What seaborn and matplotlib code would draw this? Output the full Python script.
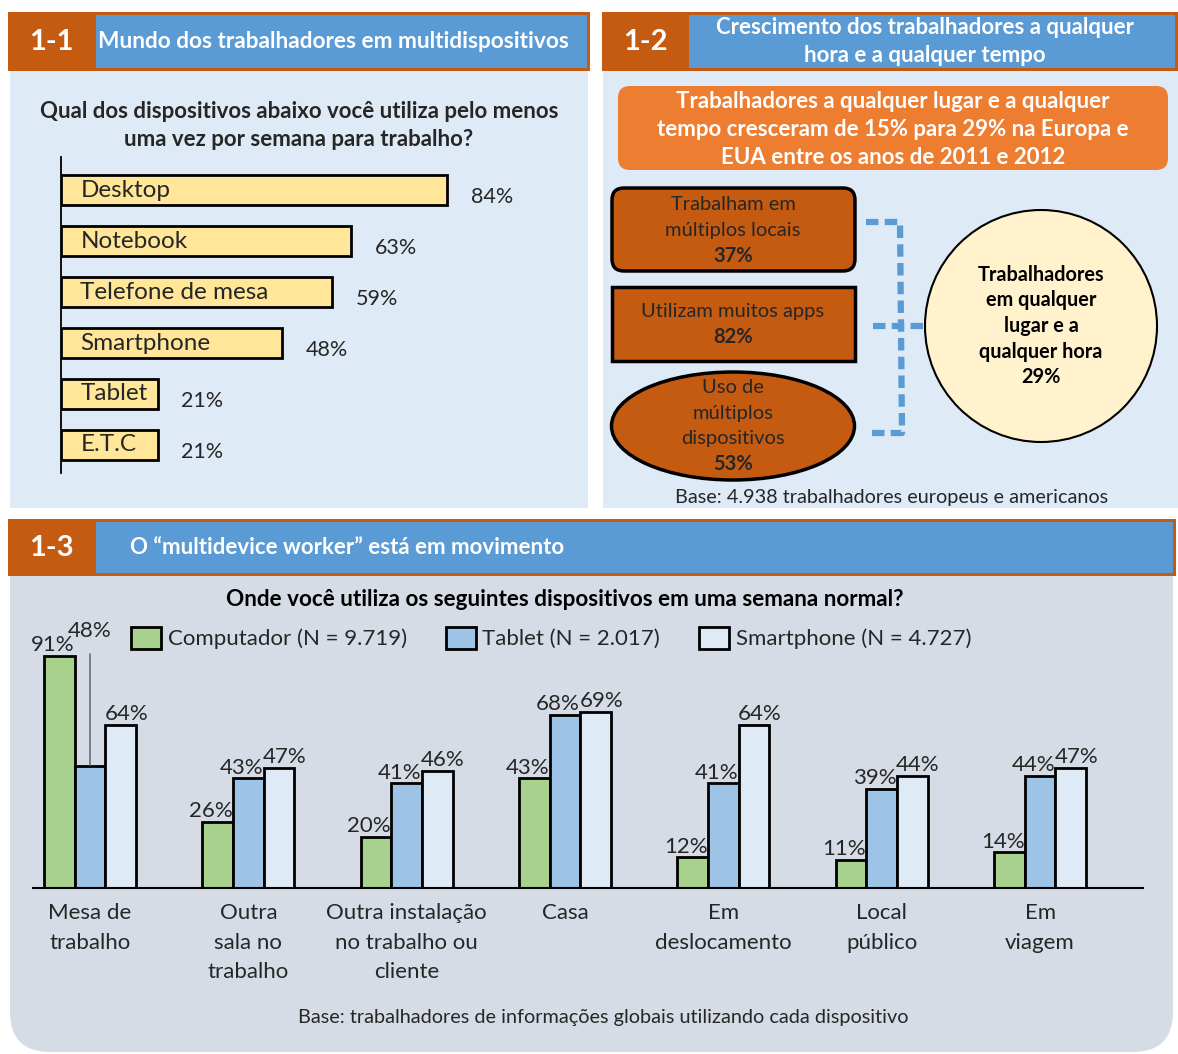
import matplotlib
matplotlib.use('Agg')
import matplotlib.pyplot as plt
import seaborn as sns
import pandas as pd
from matplotlib.patches import Rectangle, FancyBboxPatch, Ellipse, Circle, Patch

# ---------------- data ----------------
devices_11 = ['Desktop', 'Notebook', 'Telefone de mesa', 'Smartphone', 'Tablet', 'E.T.C']
usage_11 = [84, 63, 59, 48, 21, 21]

headline_12 = ['Trabalhadores a qualquer lugar e a qualquer',
               'tempo cresceram de 15% para 29% na Europa e',
               'EUA entre os anos de 2011 e 2012']
box_labels_12 = ['Trabalham em\nmúltiplos locais', 'Utilizam muitos apps', 'Uso de\nmúltiplos\ndispositivos']
box_values_12 = [37, 82, 53]
center_label_12 = 'Trabalhadores\nem qualquer\nlugar e a\nqualquer hora'
center_value_12 = 29

locations_13 = ['Mesa de\ntrabalho', 'Outra\nsala no\ntrabalho', 'Outra instalação\nno trabalho ou\ncliente',
                'Casa', 'Em\ndeslocamento', 'Local\npúblico', 'Em\nviagem']
series_13 = ['Computador (N = 9.719)', 'Tablet (N = 2.017)', 'Smartphone (N = 4.727)']
computador = [91, 26, 20, 43, 12, 11, 14]
tablet = [48, 43, 41, 68, 41, 39, 44]
smartphone = [64, 47, 46, 69, 64, 44, 47]

# ---------------- style ----------------
sns.set_theme(style='white')
plt.rcParams['font.family'] = ['Lato', 'DejaVu Sans']

ORANGE_D = '#C55A11'
ORANGE = '#ED7D31'
BLUE_H = '#5B9BD5'
BG_BLUE = '#DEEAF6'
BG_GRAY = '#D6DCE5'
TXT = '#262626'

W, H = 1178, 1054
fig = plt.figure(figsize=(W / 100, H / 100), dpi=100)
fig.patch.set_facecolor('white')
bg = fig.add_axes([0, 0, 1, 1])
bg.set_xlim(0, W)
bg.set_ylim(H, 0)
bg.axis('off')


def fax(x0, y0, x1, y1):
    a = fig.add_axes([x0 / W, 1 - y1 / H, (x1 - x0) / W, (y1 - y0) / H])
    a.set_facecolor('none')
    return a


# ---------------- panel backgrounds & headers ----------------
bg.add_patch(Rectangle((10, 70), 578, 438, color=BG_BLUE, lw=0))
bg.add_patch(Rectangle((603, 70), 575, 438, color=BG_BLUE, lw=0))
bg.add_patch(FancyBboxPatch((10 + 40, 575 + 40), 1163 - 80, 477 - 80,
                            boxstyle='round,pad=40', color=BG_GRAY, lw=0))
bg.add_patch(Rectangle((10, 575), 1163, 100, color=BG_GRAY, lw=0))

for (x0, x1, xs, y0, y1) in [(8, 590, 96, 12, 71), (602, 1178, 689, 12, 71), (8, 1176, 96, 519, 576)]:
    bg.add_patch(Rectangle((x0, y0), x1 - x0, y1 - y0, color=ORANGE_D, lw=0))
    bg.add_patch(Rectangle((xs, y0 + 3), x1 - xs - 3, y1 - y0 - 6, color=BLUE_H, lw=0))

hdr = dict(color='white', fontweight='bold', va='center')
bg.text(51, 42, '1-1', ha='center', fontsize=21, **hdr)
bg.text(645, 42, '1-2', ha='center', fontsize=21, **hdr)
bg.text(51, 548, '1-3', ha='center', fontsize=21, **hdr)
bg.text(333, 42, 'Mundo dos trabalhadores em multidispositivos', ha='center', fontsize=16.3, **hdr)
bg.text(925, 28, 'Crescimento dos trabalhadores a qualquer', ha='center', fontsize=16, **hdr)
bg.text(925, 56, 'hora e a qualquer tempo', ha='center', fontsize=16, **hdr)
bg.text(130, 548, 'O “multidevice worker” está em movimento', ha='left', fontsize=16, **hdr)

# ---------------- panel 1-1 ----------------
bg.text(299, 112, 'Qual dos dispositivos abaixo você utiliza pelo menos', ha='center', va='center',
        fontsize=16, fontweight='bold', color=TXT)
bg.text(299, 140, 'uma vez por semana para trabalho?', ha='center', va='center',
        fontsize=16, fontweight='bold', color=TXT)

ax1 = fax(61, 157, 561, 473)
sns.barplot(x=usage_11, y=devices_11, orient='h', color='#FFE699', saturation=1,
            edgecolor='black', linewidth=2, width=0.6, ax=ax1)
ax1.set_xlim(0, 500 / 4.6)
ax1.set_ylim(5.55, -0.65)
for i, (d, v) in enumerate(zip(devices_11, usage_11)):
    ax1.annotate(d, xy=(0, i), xytext=(14, 0), textcoords='offset points',
                 ha='left', va='center', fontsize=17.5, color=TXT)
    ax1.annotate(f'{v}%', xy=(v, i), xytext=(17, -5), textcoords='offset points',
                 ha='left', va='center', fontsize=15.5, color=TXT)
for s in ['top', 'right', 'bottom']:
    ax1.spines[s].set_visible(False)
ax1.spines['left'].set_color('black')
ax1.spines['left'].set_linewidth(1.3)
ax1.set_xticks([])
ax1.set_yticks([])
ax1.set_xlabel('')
ax1.set_ylabel('')

# ---------------- panel 1-2 ----------------
bg.add_patch(FancyBboxPatch((630, 98), 526, 60, boxstyle='round,pad=12', color=ORANGE, lw=0))
for i, line in enumerate(headline_12):
    bg.text(893, 101 + 28 * i, line, ha='center', va='center', color='white',
            fontsize=16, fontweight='bold')

bg.add_patch(FancyBboxPatch((624, 200), 219, 59, boxstyle='round,pad=12',
                            facecolor=ORANGE_D, edgecolor='black', lw=2.5))
bg.add_patch(Rectangle((612, 287), 243, 74, facecolor=ORANGE_D, edgecolor='black', lw=2.5))
bg.add_patch(Ellipse((733, 426), 243, 108, facecolor=ORANGE_D, edgecolor='black', lw=2.5))

centers = [230.5, 324.5, 426]
for cy, lab, val in zip(centers, box_labels_12, box_values_12):
    lines = lab.split('\n') + [f'{val}%']
    n = len(lines)
    for i, ln in enumerate(lines):
        y = cy + (i - (n - 1) / 2) * 25.5
        bg.text(733, y, ln, ha='center', va='center', fontsize=14.5, color=TXT,
                fontweight='bold' if i == n - 1 else 'normal')

bg.add_patch(Circle((1041, 326), 116, facecolor='#FFF2CC', edgecolor='black', lw=1.5))
clines = center_label_12.split('\n') + [f'{center_value_12}%']
for i, ln in enumerate(clines):
    bg.text(1041, 326 + (i - 2) * 25.5, ln, ha='center', va='center', fontsize=14.3,
            fontweight='bold', color='black')

dash = dict(color=BLUE_H, lw=4.5, linestyle=(0, (2, 1)), solid_capstyle='butt')
bg.plot([866, 900, 902, 870], [222, 222, 433, 433], **dash)
bg.plot([873, 925], [326, 326], **dash)

bg.text(892, 497, 'Base: 4.938 trabalhadores europeus e americanos', ha='center', va='center',
        fontsize=14.3, color=TXT)

# ---------------- panel 1-3 ----------------
bg.text(565, 600, 'Onde você utiliza os seguintes dispositivos em uma semana normal?',
        ha='center', va='center', fontsize=16.2, fontweight='bold', color='black')

df = pd.DataFrame({
    'loc': locations_13 * 3,
    'device': [s for s in series_13 for _ in locations_13],
    'value': computador + tablet + smartphone,
})
colors_13 = ['#A9D18E', '#9DC3E6', '#DEEBF7']
ax3 = fax(33, 640, 1143, 888)
sns.barplot(data=df, x='loc', y='value', hue='device', hue_order=series_13, order=locations_13,
            palette=colors_13, saturation=1, edgecolor='black', linewidth=2, width=0.58,
            ax=ax3, legend=False)
ax3.set_ylim(0, 248 / 2.55)
ax3.set_xlim(-0.36, 6.65)

label_dx = [-5, -5, 4]
for k, (cont, vals) in enumerate(zip(ax3.containers, [computador, tablet, smartphone])):
    for j, (p, v) in enumerate(zip(cont.patches, vals)):
        cx = p.get_x() + p.get_width() / 2
        if k == 1 and j == 0:
            ax3.annotate(f'{v}%', xy=(cx, p.get_height()),
                         xytext=(0, 97), textcoords='offset points', ha='center', va='center',
                         fontsize=16, color=TXT,
                         arrowprops=dict(arrowstyle='-', color='#595959', lw=1, shrinkA=7, shrinkB=0))
        else:
            ax3.annotate(f'{v}%', xy=(cx, p.get_height()), xytext=(label_dx[k], 0.5),
                         textcoords='offset points', ha='center', va='bottom',
                         fontsize=16, color=TXT)

ax3.set_xticks(range(len(locations_13)))
ax3.set_xticklabels(locations_13, fontsize=16, color=TXT, linespacing=1.6)
ax3.tick_params(axis='x', length=0, pad=11)
ax3.set_yticks([])
ax3.set_xlabel('')
ax3.set_ylabel('')
for s in ['top', 'right', 'left']:
    ax3.spines[s].set_visible(False)
ax3.spines['bottom'].set_color('black')
ax3.spines['bottom'].set_linewidth(1.5)

handles = [Patch(facecolor=c, edgecolor='black', linewidth=2, label=s) for c, s in zip(colors_13, series_13)]
fig.legend(handles=handles, loc='center left', bbox_to_anchor=(131 / W, 1 - 638 / H), ncol=3,
           frameon=False, fontsize=16, handlelength=1.35, handleheight=1.15, handletextpad=0.3,
           columnspacing=1.75, borderpad=0, borderaxespad=0, labelcolor=TXT)

bg.text(603, 1017, 'Base: trabalhadores de informações globais utilizando cada dispositivo',
        ha='center', va='center', fontsize=14.3, color=TXT)

fig.savefig('out.png', dpi=100)
